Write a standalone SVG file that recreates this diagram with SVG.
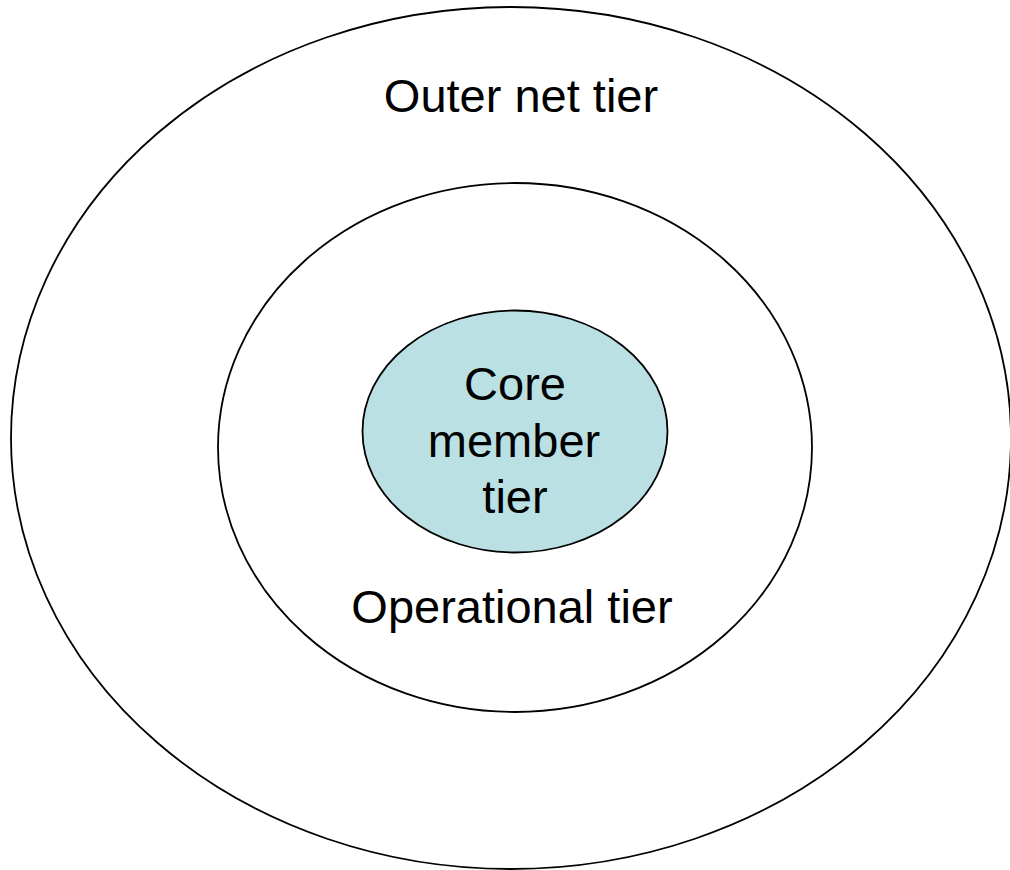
<svg xmlns="http://www.w3.org/2000/svg" width="1010" height="870" viewBox="0 0 1010 870">
<style>
.ring{fill:none;stroke:#000;stroke-width:1.8}
.core{fill:#BBE0E3;stroke:#000;stroke-width:1.8}
.t{font-family:"Liberation Sans",Arial,sans-serif;font-size:47px;fill:#000;text-anchor:middle}
</style>
<rect width="1010" height="870" fill="#fff"/>
<g id="outer">
<ellipse class="ring" cx="511" cy="438" rx="500" ry="431"/>
<text class="t" x="521" y="112">Outer net tier</text>
</g>
<g id="operational">
<ellipse class="ring" cx="515" cy="447.5" rx="297" ry="264.5"/>
<text class="t" x="512" y="623">Operational tier</text>
</g>
<g id="core">
<ellipse class="core" cx="515" cy="431.5" rx="152.5" ry="121"/>
<text class="t" x="515" y="400">Core</text>
<text class="t" x="514" y="457">member</text>
<text class="t" x="515" y="513">tier</text>
</g>
<g id="connectors"/>
</svg>
